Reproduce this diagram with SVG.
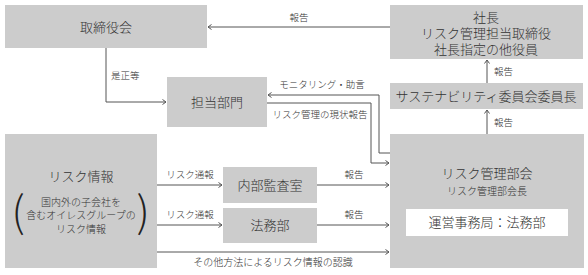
<svg xmlns="http://www.w3.org/2000/svg" width="588" height="275" viewBox="0 0 588 275">
<defs>
<marker id="ah" markerUnits="userSpaceOnUse" markerWidth="8" markerHeight="8" refX="4" refY="3" orient="auto">
<path d="M0.5,0.5 L4,3 L0.5,5.5" fill="none" stroke="#555" stroke-width="1"/>
</marker>
<style>
.box{fill:#cccccc}
.t{font-family:"Noto Sans CJK JP","Noto Sans",sans-serif;font-weight:300;fill:#333;text-anchor:middle}
.b{font-size:13px}
.s{font-size:10px}
.l{font-size:9.5px}
.c{fill:none;stroke:#555;stroke-width:1;marker-end:url(#ah)}
.p{font-family:"Noto Sans CJK JP","DejaVu Sans",sans-serif;font-weight:300;font-size:42px;fill:#222;text-anchor:middle}
</style>
</defs>
<rect width="588" height="275" fill="#fff"/>
<g id="torishimariyakukai"><rect class="box" x="5" y="5" width="202" height="43"/><text class="t b" x="106" y="32">取締役会</text></g>
<g id="shacho"><rect class="box" x="390" y="5" width="193" height="54"/>
<text class="t b" x="486" y="22">社長</text>
<text class="t b" x="486" y="38">リスク管理担当取締役</text>
<text class="t b" x="486" y="54">社長指定の他役員</text></g>
<g id="sustainability"><rect class="box" x="390" y="83" width="193" height="26"/><text class="t b" x="486" y="101">サステナビリティ委員会委員長</text></g>
<g id="tanto"><rect class="box" x="167" y="77" width="100" height="50"/><text class="t b" x="217" y="107">担当部門</text></g>
<g id="riskinfo"><rect class="box" x="5" y="134" width="152" height="134"/>
<text class="t b" x="81" y="181">リスク情報</text>
<text class="t s" x="81" y="206">国内外の子会社を</text>
<text class="t s" x="81" y="219">含むオイレスグループの</text>
<text class="t s" x="81" y="233">リスク情報</text>
<text class="p" x="18" y="227">(</text>
<text class="p" x="143" y="227">)</text></g>
<g id="naibu"><rect class="box" x="223" y="167" width="94" height="36"/><text class="t b" x="270" y="190">内部監査室</text></g>
<g id="homu"><rect class="box" x="223" y="208" width="94" height="35"/><text class="t b" x="270" y="230">法務部</text></g>
<g id="riskkanri"><rect class="box" x="390" y="134" width="194" height="134"/>
<text class="t b" x="487" y="178">リスク管理部会</text>
<text class="t s" x="487" y="195">リスク管理部会長</text>
<rect x="406" y="209" width="162" height="27" fill="#fff"/>
<text class="t b" x="487" y="227">運営事務局：法務部</text></g>
<g id="connectors">
<path class="c" d="M390,27 H208"/>
<path class="c" d="M106,48 V102 H166"/>
<path class="c" d="M390,153 H379 V95 H268"/>
<path class="c" d="M267,103 H371 V163 H389"/>
<path class="c" d="M487,134 V110"/>
<path class="c" d="M487,83 V60"/>
<path class="c" d="M157,185 H222"/>
<path class="c" d="M157,225 H222"/>
<path class="c" d="M317,185 H389"/>
<path class="c" d="M317,225 H389"/>
<path class="c" d="M157,252 H389"/>
<text class="t l" x="299" y="21">報告</text>
<text class="t l" x="111" y="79" style="text-anchor:start">是正等</text>
<text class="t l" x="494" y="75" style="text-anchor:start">報告</text>
<text class="t l" x="494" y="126" style="text-anchor:start">報告</text>
<text class="t l" x="322" y="88">モニタリング・助言</text>
<text class="t l" x="320" y="118">リスク管理の現状報告</text>
<text class="t l" x="190" y="178">リスク通報</text>
<text class="t l" x="190" y="218">リスク通報</text>
<text class="t l" x="354" y="178">報告</text>
<text class="t l" x="354" y="218">報告</text>
<text class="t s" x="273" y="266">その他方法によるリスク情報の認識</text>
</g>
</svg>
